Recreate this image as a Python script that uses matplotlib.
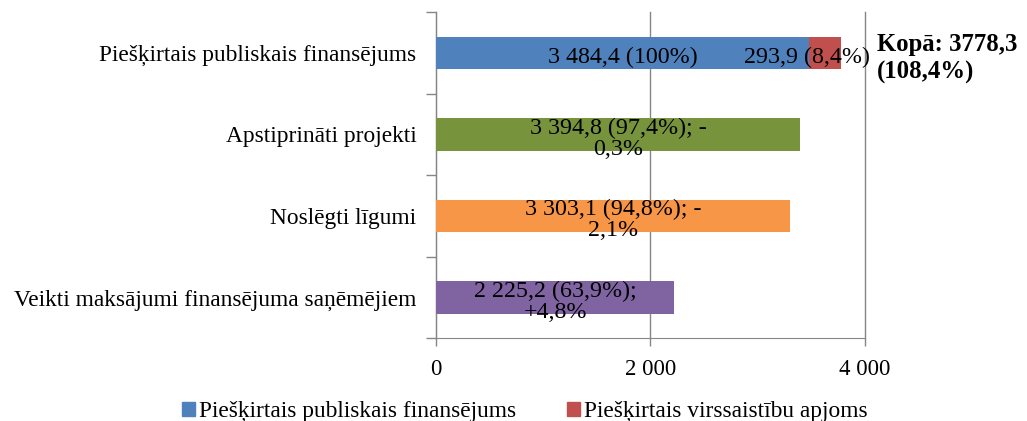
import matplotlib
matplotlib.use("Agg")
import matplotlib.pyplot as plt
import matplotlib.patches as mpatches
from matplotlib.ticker import FixedLocator

plt.rcParams['font.family'] = ['Liberation Serif', 'DejaVu Serif']

categories = ["Piešķirtais publiskais finansējums", "Apstiprināti projekti",
              "Noslēgti līgumi", "Veikti maksājumi finansējuma saņēmējiem"]
main_values = [3484.4, 3394.8, 3303.1, 2225.2]
extra_value = 293.9
bar_colors = ["#4F81BD", "#77933C", "#F79646", "#8064A2"]
extra_color = "#C0504D"
bar_labels = ["3 484,4 (100%)", "3 394,8 (97,4%); -\n0,3%",
              "3 303,1 (94,8%); -\n2,1%", "2 225,2 (63,9%);\n+4,8%"]
extra_label = "293,9 (8,4%)"
total_label = "Kopā: 3778,3\n(108,4%)"
xticks = [0, 2000, 4000]
xtick_labels = ["0", "2 000", "4 000"]

fig = plt.figure(figsize=(10.27, 4.21), dpi=100)
ax = fig.add_axes([0.4245, 0.197, 0.4175, 0.774])

ypos = list(range(len(categories)))
ax.barh(ypos, main_values, height=0.4, color=bar_colors, zorder=3)
ax.barh(0, extra_value, left=main_values[0], height=0.4, color=extra_color, zorder=3)

# labels sit a little below the bar centre, like the original
for y, v, lab in zip(ypos, main_values, bar_labels):
    ax.annotate(lab, (v / 2, y), xytext=(0, -3), textcoords="offset points",
                ha="center", va="center", fontsize=17.3, linespacing=1.0, zorder=4)
ax.annotate(extra_label, (main_values[0] + extra_value / 2, 0), xytext=(-13, -3),
            textcoords="offset points", ha="center", va="center", fontsize=17.3, zorder=4)
ax.annotate(total_label, (4000, 0), xytext=(9, -4), textcoords="offset points",
            ha="left", va="center", fontsize=17.8, fontweight="bold",
            linespacing=1.2, annotation_clip=False)

ax.set_xlim(0, 4000)
ax.set_ylim(3.5, -0.5)
ax.set_xticks(xticks)
ax.set_xticklabels(xtick_labels, fontsize=16.5)
ax.set_yticks(ypos)
ax.set_yticklabels(categories, fontsize=16.8)
ax.yaxis.set_minor_locator(FixedLocator([-0.5, 0.5, 1.5, 2.5, 3.5]))
ax.tick_params(axis="y", which="major", length=0, pad=14)
ax.tick_params(axis="y", which="minor", length=7, color="#868686", width=1)
ax.tick_params(axis="x", length=6, color="#868686", width=1, pad=9)
ax.grid(axis="x", color="#868686", linewidth=1, zorder=0)
for line in ax.get_xgridlines():
    line.set_clip_on(False)
for s in ["top", "right"]:
    ax.spines[s].set_visible(False)
for s in ["left", "bottom"]:
    ax.spines[s].set_color("#868686")

handles = [mpatches.Patch(color=bar_colors[0], label="Piešķirtais publiskais finansējums"),
           mpatches.Patch(color=extra_color, label="Piešķirtais virssaistību apjoms")]
fig.legend(handles=handles, loc="center", bbox_to_anchor=(0.511, 0.022), ncol=2,
           frameon=False, fontsize=16.8, handlelength=0.55, handleheight=0.55,
           handletextpad=0.15, columnspacing=2.2, borderpad=0)

fig.savefig("out.png", dpi=100)
